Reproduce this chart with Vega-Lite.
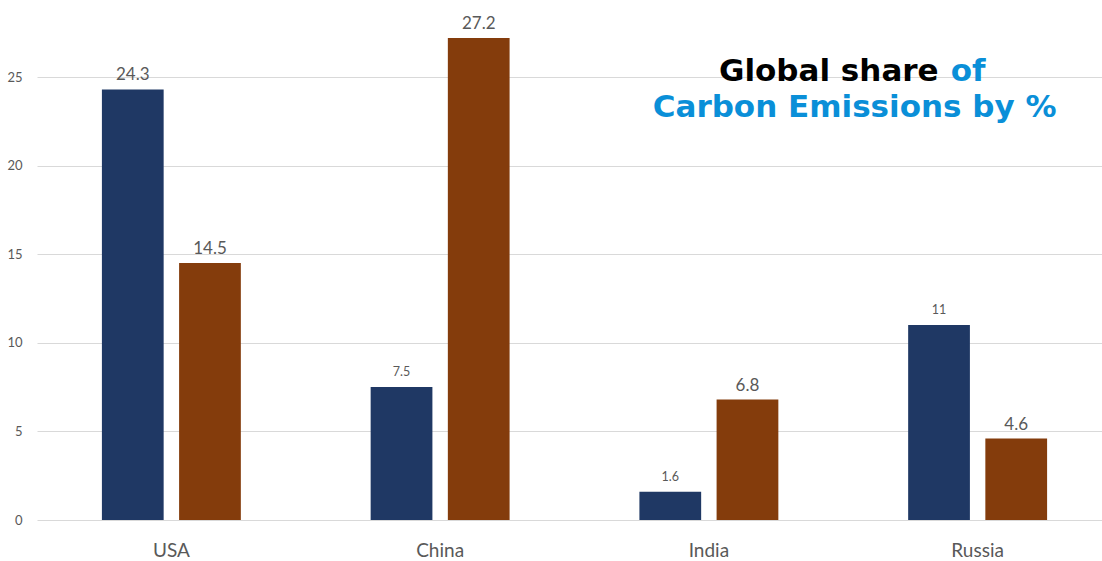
{
  "$schema": "https://vega.github.io/schema/vega-lite/v6.json",
  "width": 1065,
  "height": 520,
  "autosize": "none",
  "padding": {"left": 37, "top": 0, "right": 0, "bottom": 41},
  "background": "white",
  "config": {"view": {"stroke": null}},
  "datasets": {
    "share": [
      {"country": "USA", "series": "Series 1", "value": 24.3},
      {"country": "USA", "series": "Series 2", "value": 14.5},
      {"country": "China", "series": "Series 1", "value": 7.5},
      {"country": "China", "series": "Series 2", "value": 27.2},
      {"country": "India", "series": "Series 1", "value": 1.6},
      {"country": "India", "series": "Series 2", "value": 6.8},
      {"country": "Russia", "series": "Series 1", "value": 11},
      {"country": "Russia", "series": "Series 2", "value": 4.6}
    ]
  },
  "layer": [
    {
      "data": {"name": "share"},
      "mark": {"type": "bar"},
      "encoding": {
        "x": {"field": "country", "type": "nominal", "sort": ["USA", "China", "India", "Russia"],
          "scale": {"range": [0, 1075], "paddingInner": 0.483, "paddingOuter": 0.2415},
          "axis": {"title": null, "labelAngle": 0, "labelFontSize": 19, "labelColor": "#595959", "labelFont": "Lato", "ticks": false, "domain": false, "labelPadding": 21}},
        "y": {"field": "value", "type": "quantitative", "scale": {"domain": [0, 29.35], "nice": false},
          "axis": {"title": null, "values": [0, 5, 10, 15, 20, 25], "ticks": false, "domain": false, "gridColor": "#d9d9d9", "labelColor": "#595959", "labelFontSize": 13, "labelPadding": 15, "labelFont": "Lato"}},
        "xOffset": {"field": "series", "scale": {"paddingInner": 0.2}},
        "color": {"field": "series", "scale": {"range": ["#1f3864", "#843c0c"]}, "legend": null}
      }
    },
    {
      "data": {"name": "share"},
      "transform": [{"filter": "datum.series === 'Series 2' || datum.country === 'USA'"}],
      "mark": {"type": "text", "baseline": "alphabetic", "dy": -9, "fontSize": 17, "font": "Lato", "color": "#595959"},
      "encoding": {
        "x": {"field": "country", "type": "nominal", "sort": ["USA", "China", "India", "Russia"]},
        "y": {"field": "value", "type": "quantitative"},
        "xOffset": {"field": "series"},
        "text": {"field": "value", "type": "quantitative"}
      }
    },
    {
      "data": {"name": "share"},
      "transform": [{"filter": "datum.series === 'Series 1' && datum.country !== 'USA'"}],
      "mark": {"type": "text", "baseline": "alphabetic", "dy": -11, "fontSize": 12.5, "font": "Lato", "color": "#595959"},
      "encoding": {
        "x": {"field": "country", "type": "nominal", "sort": ["USA", "China", "India", "Russia"]},
        "y": {"field": "value", "type": "quantitative"},
        "xOffset": {"field": "series"},
        "text": {"field": "value", "type": "quantitative"}
      }
    },
    {
      "data": {"values": [{"t": "Global share", "country": "Russia", "v": 24.77}]},
      "mark": {"type": "text", "align": "right", "baseline": "alphabetic", "dx": -39, "fontSize": 31, "font": "DejaVu Sans", "fontWeight": "bold", "color": "#000000"},
      "encoding": {
        "x": {"field": "country", "type": "nominal", "sort": ["USA", "China", "India", "Russia"]},
        "y": {"field": "v", "type": "quantitative"},
        "text": {"field": "t"}
      }
    },
    {
      "data": {"values": [{"t": "of", "country": "Russia", "v": 24.77}]},
      "mark": {"type": "text", "align": "left", "baseline": "alphabetic", "dx": -27, "fontSize": 31, "font": "DejaVu Sans", "fontWeight": "bold", "color": "#0a8fd8"},
      "encoding": {
        "x": {"field": "country", "type": "nominal", "sort": ["USA", "China", "India", "Russia"]},
        "y": {"field": "v", "type": "quantitative"},
        "text": {"field": "t"}
      }
    },
    {
      "data": {"values": [{"t": "Carbon Emissions by %", "country": "Russia", "v": 22.74}]},
      "mark": {"type": "text", "align": "center", "baseline": "alphabetic", "dx": -123, "fontSize": 31, "font": "DejaVu Sans", "fontWeight": "bold", "color": "#0a8fd8"},
      "encoding": {
        "x": {"field": "country", "type": "nominal", "sort": ["USA", "China", "India", "Russia"]},
        "y": {"field": "v", "type": "quantitative"},
        "text": {"field": "t"}
      }
    }
  ]
}
